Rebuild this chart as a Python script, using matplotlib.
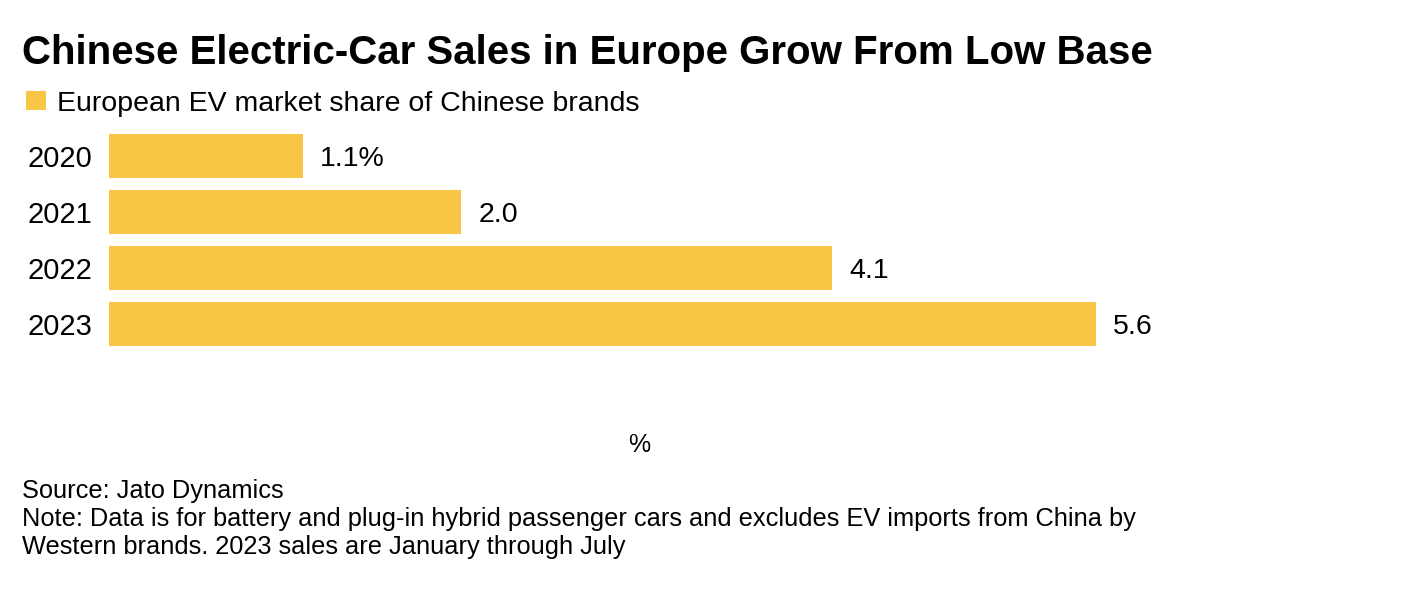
import matplotlib
matplotlib.use("Agg")
import matplotlib.pyplot as plt
from matplotlib.patches import Rectangle

plt.rcParams['font.family'] = ['Liberation Sans', 'DejaVu Sans']

years = ["2020", "2021", "2022", "2023"]
shares = [1.1, 2.0, 4.1, 5.6]
value_labels = ["1.1%", "2.0", "4.1", "5.6"]

title = "Chinese Electric-Car Sales in Europe Grow From Low Base"
legend_label = "European EV market share of Chinese brands"
source = "Source: Jato Dynamics"
note_lines = ["Note: Data is for battery and plug-in hybrid passenger cars and excludes EV imports from China by",
              "Western brands. 2023 sales are January through July"]

BAR = "#F6C644"
W, H = 1426, 590
fig = plt.figure(figsize=(W / 100, H / 100), dpi=100)

def fx(px):
    return px / W

def fy(py):
    return 1 - py / H

# axes: x 109..1166.5 ; y 128..352
ax = fig.add_axes([fx(109), fy(352), fx(1166.5 - 109), (352 - 128) / H])
ypos = list(range(len(years)))
ax.barh(ypos, shares, height=0.786, color=BAR, edgecolor='none')
ax.set_xlim(0, 6.0)
ax.set_ylim(3.5, -0.5)
ax.set_yticks(ypos)
ax.set_yticklabels(years, fontsize=21, va='center_baseline')
ax.tick_params(axis='y', length=0, pad=12)
ax.set_xticks([])
for s in ax.spines.values():
    s.set_visible(False)
for y, v, lab in zip(ypos, shares, value_labels):
    ax.annotate(lab, (v, y), xytext=(12.5, 0), textcoords='offset points',
                va='center_baseline', ha='left', fontsize=20.5)

fig.text(fx(22), fy(64), title, fontsize=29, fontweight='bold', va='baseline', ha='left')
fig.patches.append(Rectangle((fx(26), fy(110)), fx(20), 19 / H, transform=fig.transFigure,
                             facecolor=BAR, edgecolor='none'))
fig.text(fx(57), fy(111), legend_label, fontsize=20.5, va='baseline', ha='left')
fig.text(fx(639), fy(452), "%", fontsize=18, va='baseline', ha='center')
fig.text(fx(22), fy(498), source, fontsize=18.3, va='baseline', ha='left')
for i, line in enumerate(note_lines):
    fig.text(fx(22), fy(526 + 28 * i), line, fontsize=18.3, va='baseline', ha='left')

fig.savefig("out.png", dpi=100, facecolor='white')
